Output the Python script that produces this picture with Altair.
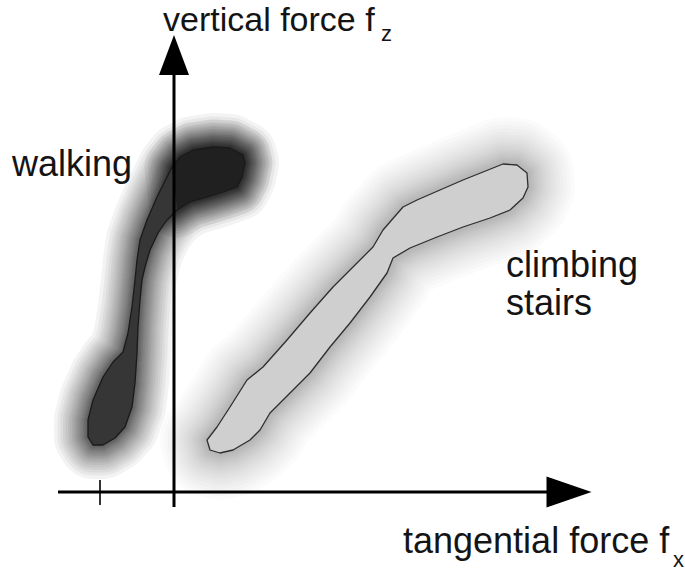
import altair as alt
import pandas as pd

# Force plane: tangential force f_x (horizontal), vertical force f_z (vertical).
# Outline of the region covered while walking
walk_fx = [-2, 6, 19, 39, 56, 69, 71, 68, 63, 49, 33, 16, 3, -7, -16, -24, -29, -32,
           -34, -36, -37, -39, -42, -49, -59, -71, -81, -86, -86, -81, -71, -61, -51,
           -46, -42, -39, -37, -34, -27, -17, -7]
walk_fz = [325, 335, 342, 345, 344, 337, 329, 315, 305, 300, 295, 290, 282, 272, 259,
           242, 225, 212, 192, 165, 139, 109, 85, 65, 54, 47, 47, 55, 72, 92, 115, 130,
           140, 159, 185, 212, 232, 252, 272, 295, 315]
HEAD_POINTS = 13  # the first points trace the heel-strike "head" of the walking loop

# Outline of the region covered while climbing stairs
climb_fx = [33, 43, 56, 73, 89, 113, 136, 159, 183, 199, 209, 229, 243, 266, 289, 309,
            329, 343, 353, 354, 349, 336, 316, 289, 263, 236, 219, 213, 196, 176, 156,
            136, 116, 96, 86, 76, 59, 46, 36]
climb_fz = [52, 65, 85, 112, 125, 152, 179, 205, 229, 245, 262, 285, 292, 302, 312, 320,
            328, 327, 319, 305, 294, 282, 274, 265, 255, 244, 234, 219, 195, 169, 145,
            119, 99, 79, 62, 52, 42, 39, 42]

# Axes: shafts, arrow heads and the small tick on the tangential axis
axis_x0, axis_x1 = -116, 373
axis_z0, axis_z1 = -15, 417
arrow_up_at = 437
arrow_right_at = 395
tick_fx = -74
tick_z0, tick_z1 = -13, 12

# Labels
label_text = ["walking", "climbing", "stairs", "tangential force f"]
label_fx = [-162, 332, 332, 229]
label_fz = [316, 215, 177, -61]
top_text, top_fx, top_fz = "vertical force f", -11, 461
sub_text = ["z", "x"]
sub_fx = [207, 499]
sub_fz = [451, -75]

FONT = "Liberation Sans"
INK = "#141414"
xs = alt.Scale(domain=[-174, 511], nice=False, zero=False)
ys = alt.Scale(domain=[-80, 492], nice=False, zero=False)
X = lambda f: alt.X(f, type="quantitative", scale=xs, axis=None)
Y = lambda f: alt.Y(f, type="quantitative", scale=ys, axis=None)

walk = pd.DataFrame({"fx": walk_fx, "fz": walk_fz, "i": range(len(walk_fx))})
head = walk.iloc[:HEAD_POINTS]
climb = pd.DataFrame({"fx": climb_fx, "fz": climb_fz, "i": range(len(climb_fx))})


def outline(df, **mark):
    return alt.Chart(df).mark_line(interpolate="linear-closed", strokeJoin="round",
                                   strokeCap="round", **mark).encode(
        x=X("fx"), y=Y("fz"), order=alt.Order("i:Q"))


def halo(df, widths, alpha):
    # soft shadow: stacked translucent wide strokes around the outline
    return [outline(df, stroke="black", strokeWidth=w, strokeOpacity=alpha) for w in widths]


CLIMB_HALO = [4, 7, 10, 13, 16, 20, 24, 28, 32, 37, 42, 47, 53, 59, 65, 72, 79, 86, 94]
WALK_HALO = [3, 5, 7, 9, 11, 13, 16, 19, 22, 25, 28, 32, 36, 40, 45, 50, 55, 61, 68]
HEAD_HALO = [5, 8, 11, 14, 18, 22, 26, 31, 36, 42, 48, 55]

layers = []
layers += halo(climb, CLIMB_HALO, 0.014)
layers += halo(walk, WALK_HALO, 0.047)
layers += halo(head, HEAD_HALO, 0.05)
layers.append(outline(climb, fill="#cfcfcf", stroke="#2e2e2e", strokeWidth=1.3))
layers.append(outline(walk, fill="#363636", stroke=None, strokeWidth=0))
layers.append(outline(head, fill="black", fillOpacity=0.4, stroke=None, strokeWidth=0))
layers.append(outline(walk, fill=None, stroke="#1a1a1a", strokeWidth=1.3))

axes_df = pd.DataFrame({
    "x": [axis_x0, 0, tick_fx],
    "x2": [axis_x1, 0, tick_fx],
    "y": [0, axis_z0, tick_z0],
    "y2": [0, axis_z1, tick_z1],
    "w": [3, 3, 1.6],
})
layers.append(alt.Chart(axes_df).mark_rule(color="black").encode(
    x=X("x"), x2="x2", y=Y("y"), y2="y2",
    strokeWidth=alt.StrokeWidth("w:Q", scale=None)))

heads = pd.DataFrame({"x": [0], "y": [arrow_up_at]})
layers.append(alt.Chart(heads).mark_point(
    shape="M-0.75,1L0,-1L0.75,1Z", filled=True, size=1600, color="black", opacity=1,
    strokeWidth=0).encode(x=X("x"), y=Y("y")))
heads_r = pd.DataFrame({"x": [arrow_right_at], "y": [0]})
layers.append(alt.Chart(heads_r).mark_point(
    shape="M-1,-0.69L1,0L-1,0.69Z", filled=True, size=2025, color="black", opacity=1,
    strokeWidth=0).encode(x=X("x"), y=Y("y")))

labels = pd.DataFrame({"t": label_text, "x": label_fx, "y": label_fz})
layers.append(alt.Chart(labels).mark_text(
    align="left", baseline="alphabetic", font=FONT, fontSize=36, color=INK).encode(
    x=X("x"), y=Y("y"), text="t:N"))
top = pd.DataFrame({"t": [top_text], "x": [top_fx], "y": [top_fz]})
layers.append(alt.Chart(top).mark_text(
    align="left", baseline="alphabetic", font=FONT, fontSize=34, color=INK).encode(
    x=X("x"), y=Y("y"), text="t:N"))
subs = pd.DataFrame({"t": sub_text, "x": sub_fx, "y": sub_fz})
layers.append(alt.Chart(subs).mark_text(
    align="left", baseline="alphabetic", font=FONT, fontSize=22, color=INK).encode(
    x=X("x"), y=Y("y"), text="t:N"))

chart = alt.layer(*layers).properties(
    width=685, height=572, padding=0, autosize="none", background="white"
).configure_view(stroke=None)

chart.save("out.html", embed_options={"renderer": "svg", "actions": False})
